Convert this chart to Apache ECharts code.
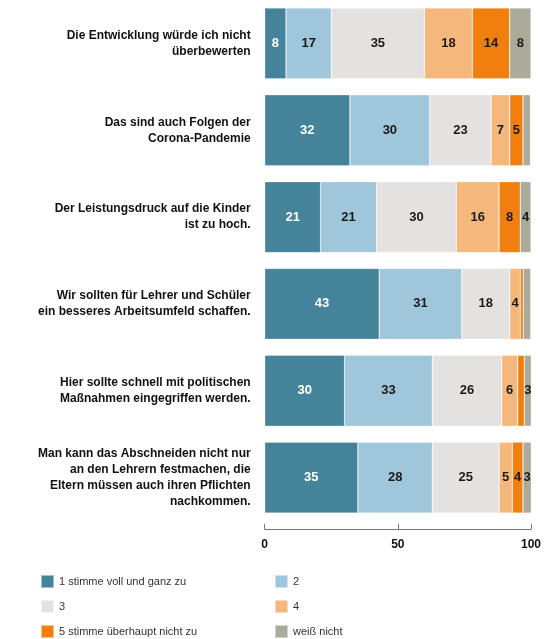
<!DOCTYPE html>
<html>
<head>
<meta charset="utf-8">
<script src="https://cdn.jsdelivr.net/npm/echarts@6/dist/echarts.min.js"></script>
<style>html,body{margin:0;padding:0;background:#fff}#c{width:544px;height:639px}</style>
</head>
<body>
<div id="c"></div>
<script>
const categories = [
  "Die Entwicklung würde ich nicht\nüberbewerten",
  "Das sind auch Folgen der\nCorona-Pandemie",
  "Der Leistungsdruck auf die Kinder\nist zu hoch.",
  "Wir sollten für Lehrer und Schüler\nein besseres Arbeitsumfeld schaffen.",
  "Hier sollte schnell mit politischen\nMaßnahmen eingegriffen werden.",
  "Man kann das Abschneiden nicht nur\nan den Lehrern festmachen, die\nEltern müssen auch ihren Pflichten\nnachkommen."
];
const seriesNames = ["1 stimme voll und ganz zu", "2", "3", "4", "5 stimme überhaupt nicht zu", "weiß nicht"];
const s1 = [8, 32, 21, 43, 30, 35];
const s2 = [17, 30, 21, 31, 33, 28];
const s3 = [35, 23, 30, 18, 26, 25];
const s4 = [18, 7, 16, 4, 6, 5];
const s5 = [14, 5, 8, 1.1, 2.5, 4];
const s6 = [8, 2.8, 4, 2.8, 3.3, 3.3];
const xTicks = [0, 50, 100];

const values = [s1, s2, s3, s4, s5, s6];
const colors = ["#44839a", "#9fc6da", "#e3e2e1", "#f6b77d", "#f07f0f", "#aaab9a"];

const chart = echarts.init(document.getElementById('c'), null, {renderer: 'canvas'});
const series = seriesNames.map((n, i) => ({
  name: n,
  type: 'bar',
  stack: 'total',
  barWidth: 71,
  data: values[i],
  itemStyle: {color: colors[i], borderColor: 'rgba(255,255,255,0.5)', borderWidth: 0.6},
  emphasis: {disabled: true},
  label: {
    show: true,
    position: 'inside',
    formatter: p => p.value >= 3 ? String(Math.round(p.value)) : '',
    color: i === 0 ? '#ffffff' : '#1a1a1a',
    fontFamily: 'Liberation Sans, Arial, sans-serif',
    fontWeight: 'bold',
    fontSize: 13
  }
}));
const legends = seriesNames.map((n, i) => ({
  data: [n],
  left: i % 2 === 0 ? 40 : 274,
  top: 574 + Math.floor(i / 2) * 25,
  itemWidth: 13,
  itemHeight: 13,
  itemGap: 0,
  icon: 'rect',
  selectedMode: false,
  padding: 0,
  textStyle: {fontFamily: 'Liberation Sans, Arial, sans-serif', fontSize: 11, color: '#333', padding: [0, 0, 0, 0]}
}));
chart.setOption({
  animation: false,
  color: colors,
  legend: legends,
  grid: {left: 264.7, right: 9, top: 0, height: 521, containLabel: false},
  xAxis: {
    type: 'value', min: 0, max: 100, interval: 50,
    offset: 8,
    axisLine: {show: true, lineStyle: {color: '#777', width: 1}},
    axisTick: {show: true, inside: true, length: 5, lineStyle: {color: '#777'}},
    splitLine: {show: false},
    axisLabel: {
      margin: 10,
      color: '#111', fontWeight: 'bold', fontSize: 12,
      fontFamily: 'Liberation Sans, Arial, sans-serif',
      formatter: v => xTicks.includes(v) ? String(v) : ''
    }
  },
  yAxis: {
    type: 'category', data: categories, inverse: true,
    axisLine: {show: false}, axisTick: {show: false},
    axisLabel: {
      margin: 14,
      color: '#111', fontWeight: 'bold', fontSize: 12, lineHeight: 16,
      align: 'right',
      fontFamily: 'Liberation Sans, Arial, sans-serif'
    }
  },
  series: series
});
</script>
</body>
</html>
